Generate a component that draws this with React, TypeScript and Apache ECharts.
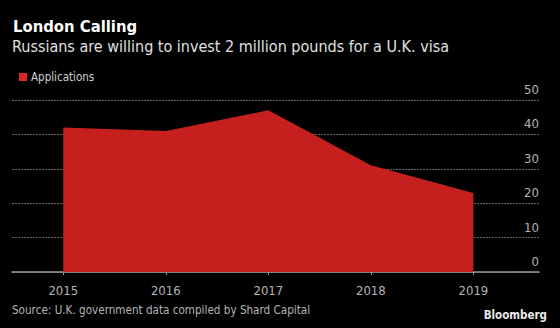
import React, { useEffect, useRef } from "react";
import * as echarts from "echarts";

const years = [2015, 2016, 2017, 2018, 2019];
const applications = [42, 41, 47, 31, 23];
const yTicks = [0, 10, 20, 30, 40, 50];

const TITLE = "London Calling";
const SUBTITLE = "Russians are willing to invest 2 million pounds for a U.K. visa";
const SOURCE = "Source: U.K. government data compiled by Shard Capital";
const FONT = "'DejaVu Sans Condensed', 'Liberation Sans Narrow', sans-serif";

export default function App() {
  const ref = useRef<HTMLDivElement>(null);
  useEffect(() => {
    const chart = echarts.init(ref.current!, null, { renderer: "svg" });
    chart.setOption({
      animation: false,
      backgroundColor: "#000000",
      textStyle: { fontFamily: FONT },
      graphic: [
        { type: "text", left: 13, top: 18, style: { text: TITLE, fill: "#ffffff", font: `bold 16.5px ${FONT}` } },
        { type: "text", left: 12, top: 38, style: { text: SUBTITLE, fill: "#e0e0e0", font: `16px ${FONT}` } },
        { type: "text", left: 12, top: 304, style: { text: SOURCE, fill: "#b4b4b4", font: `11.6px ${FONT}` } },
        { type: "text", right: 13, top: 309, style: { text: "Bloomberg", fill: "#e8e8e8", font: `bold 11.5px ${FONT}` } },
      ],
      legend: {
        left: 14,
        top: 66,
        icon: "rect",
        itemWidth: 8,
        itemHeight: 8,
        itemGap: 5,
        textStyle: { color: "#d0d0d0", fontSize: 11.5, fontFamily: FONT, padding: [0, 0, 0, -1] },
        data: ["Applications"],
      },
      grid: { left: 12, right: 21, top: 100, bottom: 56, containLabel: false },
      xAxis: {
        type: "value",
        min: 2014.5,
        max: 2019.64,
        splitLine: { show: false },
        axisLine: { show: true, lineStyle: { color: "#9a9a9a", width: 1.5 } },
        axisTick: { show: true, customValues: years, length: 3, lineStyle: { color: "#9a9a9a" } },
        axisLabel: {
          customValues: years,
          color: "#b4b4b4",
          fontSize: 13,
          margin: 12,
          fontFamily: FONT,
          formatter: (v: number) => String(Math.round(v)),
        },
      },
      yAxis: {
        type: "value",
        position: "right",
        min: 0,
        max: 50,
        interval: 10,
        axisLine: { show: false },
        axisTick: { show: false },
        splitLine: { show: true, lineStyle: { color: "#666666", type: [2, 1], width: 1 } },
        axisLabel: {
          inside: true,
          align: "right",
          verticalAlign: "bottom",
          margin: 0,
          padding: [0, 0, 4, 0],
          color: "#b4b4b4",
          fontSize: 13,
          fontFamily: FONT,
          customValues: yTicks,
        },
      },
      series: [
        {
          name: "Applications",
          type: "line",
          data: years.map((y, i) => [y, applications[i]]),
          symbol: "none",
          lineStyle: { width: 0, color: "#c6201e" },
          itemStyle: { color: "#e02424" },
          areaStyle: { color: "#c6201e", opacity: 1 },
          z: 1,
        },
      ],
    });
    return () => chart.dispose();
  }, []);
  return <div ref={ref} style={{ width: 560, height: 328, position: "fixed", left: 0, top: 0 }} />;
}
